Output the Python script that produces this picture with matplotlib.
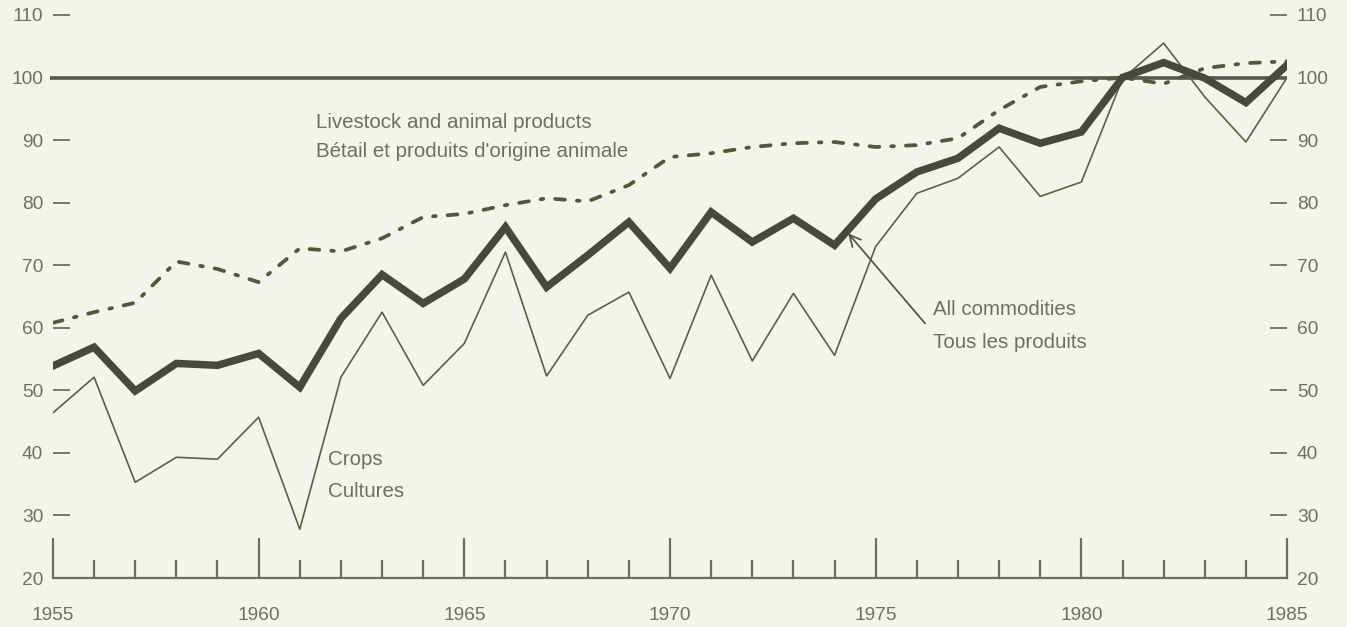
import matplotlib.pyplot as plt
import numpy as np

years = list(range(1955, 1986))

# index values, 1981 = 100
all_commodities = [53.9, 56.9, 49.9, 54.3, 54.0, 55.9, 50.5, 61.5, 68.5, 63.9,
                   67.8, 76.1, 66.5, 71.6, 76.9, 69.5, 78.5, 73.7, 77.5, 73.2,
                   80.6, 84.9, 87.1, 91.9, 89.5, 91.3, 100.0, 102.4, 99.9, 96.0,
                   102.0]
crops = [46.4, 52.1, 35.3, 39.3, 39.0, 45.7, 27.8, 52.1, 62.5, 50.8,
         57.5, 72.1, 52.3, 62.0, 65.7, 51.9, 68.4, 54.7, 65.5, 55.6,
         73.0, 81.5, 83.9, 88.9, 81.0, 83.3, 99.8, 105.5, 96.9, 89.7,
         100.0]
livestock = [60.8, 62.5, 64.0, 70.6, 69.4, 67.3, 72.7, 72.2, 74.3, 77.7,
             78.2, 79.6, 80.7, 80.2, 82.8, 87.3, 87.9, 88.9, 89.5, 89.7,
             88.9, 89.2, 90.3, 94.8, 98.5, 99.4, 100.0, 99.0, 101.5, 102.3,
             102.6]

yticks = [20, 30, 40, 50, 60, 70, 80, 90, 100, 110]
xlabels = [1955, 1960, 1965, 1970, 1975, 1980, 1985]

bg = '#f3f4ea'
txt = '#6e7066'

plt.rcParams['font.family'] = ['Liberation Sans', 'DejaVu Sans']

fig = plt.figure(figsize=(13.47, 6.27), dpi=100, facecolor=bg)
ax = fig.add_axes([0.0393, 0.0781, 0.9162, 0.898])
ax.set_facecolor(bg)
ax.set_xlim(1955, 1985)
ax.set_ylim(20, 110)

# base line at 100
ax.plot([1954.93, 1985.0], [100, 100], color='#55584c', lw=2.6, clip_on=False,
        solid_capstyle='butt', zorder=2)

ax.plot(years, crops, color='#56653f', lw=1.2, zorder=3)
ax.plot(years, livestock, color='#4e5a38', lw=2.7, dashes=(2.6, 3.2, 0.7, 3.2),
        dash_capstyle='round', zorder=3)
ax.plot(years, all_commodities, color='#464a3c', lw=5.4, zorder=4,
        solid_joinstyle='miter')

for s in ['top', 'left', 'right']:
    ax.spines[s].set_visible(False)
ax.spines['bottom'].set_color('#6b705c')
ax.spines['bottom'].set_linewidth(1.6)

ax.set_xticks(xlabels)
ax.set_xticks(years, minor=True)
ax.tick_params(axis='x', which='major', direction='in', length=29, width=1.6,
               color='#6b705c', labelsize=13.8, labelcolor=txt, pad=21)
ax.tick_params(axis='x', which='minor', direction='in', length=13, width=1.6,
               color='#6b705c')

ax.set_yticks(yticks)
ax.tick_params(axis='y', which='major', direction='in', length=12.5, width=1.3,
               color='#6b705c', labelsize=13.8, labelcolor=txt, pad=7,
               left=True, right=True, labelleft=True, labelright=True)
for t in ax.yaxis.get_major_ticks()[:1]:
    t.tick1line.set_visible(False)
    t.tick2line.set_visible(False)

# labels
fs = 14.8
ax.text(1961.39, 92.0, 'Livestock and animal products', fontsize=fs, color=txt, va='baseline')
ax.text(1961.39, 87.3, "Bétail et produits d'origine animale", fontsize=fs, color=txt, va='baseline')
ax.text(1961.69, 38.0, 'Crops', fontsize=fs, color=txt, va='baseline')
ax.text(1961.69, 32.9, 'Cultures', fontsize=fs, color=txt, va='baseline')
ax.text(1976.4, 62.0, 'All commodities', fontsize=fs, color=txt, va='baseline')
ax.text(1976.4, 56.7, 'Tous les produits', fontsize=fs, color=txt, va='baseline')
ax.annotate('', xy=(1974.33, 75.1), xytext=(1976.2, 60.7),
            arrowprops=dict(arrowstyle='->', color='#55584c', lw=1.3,
                            mutation_scale=20, shrinkA=0, shrinkB=0))

fig.savefig('out.png', dpi=100, facecolor=bg)
